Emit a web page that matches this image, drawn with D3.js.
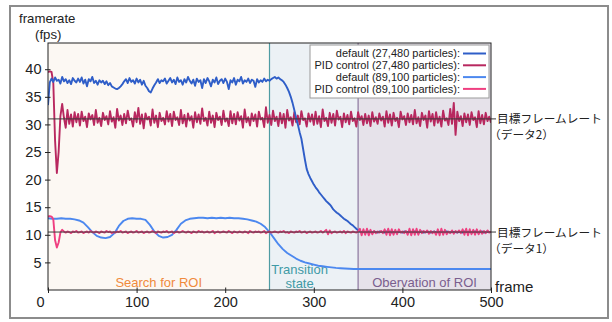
<!DOCTYPE html>
<html>
<head>
<meta charset="utf-8">
<script src="https://cdn.jsdelivr.net/npm/d3@7"></script>
<style>
  body { margin: 0; background: #fff; }
  text { font-family: "Liberation Sans", Arial, sans-serif; fill: #222; }
  .jp { font-family: "Noto Sans CJK JP", sans-serif; }
</style>
</head>
<body>
<div class="canvas"></div>
<script>
// ---- data ----
const xTicks = [0, 100, 200, 300, 400, 500];
const yTicks = [5, 10, 15, 20, 25, 30, 35, 40];

const regionStarts = [0, 250, 350];
const regionEnds = [250, 350, 500];
const regionNames = [['Search for ROI'], ['Transition', 'state'], ['Obervation of ROI']];
const regionLabelFrames = [125, 284, 425];

const targetValues = [31, 10.5];
const targetNames = [['目標フレームレート', '（データ2）'], ['目標フレームレート', '（データ1）']];

const seriesNames = [
  'default (27,480 particles):',
  'PID control (27,480 particles):',
  'default (89,100 particles):',
  'PID control (89,100 particles):'
];

// frames between samples for each series
const seriesSteps = [2, 2, 5, 2];

const default27480 = [
  33.5, 37.6, 38.3, 37.7, 38.5, 37.9, 38.1, 37.4, 38.6, 37.8,
  38.2, 37.5, 38.0, 37.3, 38.4, 37.9, 37.6, 38.3, 37.7, 38.5,
  37.4, 38.1, 36.9, 38.2, 37.8, 38.6, 37.5, 37.9, 37.2, 38.0,
  37.6, 37.9, 37.3, 37.8, 37.1, 37.5, 36.9, 36.7, 36.5, 36.4,
  36.6, 36.9, 37.3, 37.8, 38.2, 37.5, 38.4, 37.7, 38.0, 37.4,
  38.3, 37.6, 38.1, 37.2, 37.9, 37.0, 36.6, 36.0, 35.8, 36.5,
  37.1, 37.6, 38.2, 37.5, 38.0, 37.8, 38.3, 37.4, 37.9, 38.4,
  37.6, 38.1, 37.3, 38.5, 37.7, 38.0, 37.2, 38.2, 37.6, 38.6,
  37.9, 37.4, 38.1, 37.0, 38.3, 37.7, 38.0, 36.6, 38.2, 37.5,
  38.4, 37.8, 36.9, 38.1, 37.6, 38.5, 37.3, 37.9, 38.2, 37.5,
  38.3, 37.7, 36.4, 38.0, 37.6, 38.4, 37.2, 38.1, 37.8, 38.6,
  37.4, 38.0, 37.7, 38.3, 37.5, 38.1, 37.9, 36.8, 38.2, 37.6,
  38.0, 37.7, 38.3, 37.8, 38.1, 37.9, 38.2, 38.4, 38.6, 38.3,
  38.5, 38.2, 38.0, 37.7, 37.2, 36.6, 35.9, 35.0, 33.9, 32.6,
  31.2, 30.0, 28.6, 27.4, 25.5, 23.6, 21.9, 21.0, 20.3, 19.7,
  19.1, 18.6, 18.2, 17.7, 17.3, 16.9, 16.5, 16.1, 15.8, 15.5,
  15.1, 14.6, 14.3, 14.0, 13.8, 13.5, 13.2, 12.9, 12.7, 12.5,
  12.2, 11.9, 11.7, 11.4, 11.1, 10.8, 10.6,
  10.5, 10.6, 10.4, 10.5, 10.6, 10.5, 10.4, 10.6, 10.5, 10.4,
  10.6, 10.5, 10.5, 10.4, 10.6, 10.5, 10.6, 10.4, 10.5, 10.5,
  10.4, 10.6, 10.5, 10.4, 10.6, 10.5, 10.5, 10.6, 10.4, 10.5,
  10.6, 10.5, 10.4, 10.5, 10.6, 10.4, 10.5, 10.6, 10.5, 10.4,
  10.5, 10.6, 10.4, 10.5, 10.5, 10.6, 10.4, 10.5, 10.6, 10.5,
  10.4, 10.6, 10.5, 10.5, 10.4, 10.6, 10.5, 10.4, 10.6, 10.5,
  10.5, 10.6, 10.4, 10.5, 10.6, 10.5, 10.4, 10.5, 10.6, 10.4,
  10.5, 10.6, 10.5, 10.5
];

const pid27480 = [
  39.5, 39.6, 39.5, 37.5, 27.0, 21.2, 25.0, 31.5, 33.7, 31.2,
  29.4, 32.6, 30.1, 31.8, 29.6, 32.2,
  30.4, 31.9, 29.8, 32.3, 30.6, 31.4, 29.5, 32.0, 30.9, 31.7, 29.9, 32.6, 30.3, 31.2, 29.7, 32.1, 30.8, 31.5, 30.0, 32.4,
  30.5, 31.3, 29.4, 32.8, 30.7, 31.6, 29.9, 31.9, 30.2, 32.5, 30.8, 31.1, 29.6, 32.2, 30.4, 33.0, 30.1, 31.8, 29.3, 32.0,
  30.9, 31.4, 29.8, 32.7, 30.3, 31.6, 29.5, 32.1, 30.6, 31.2, 30.0, 32.4, 30.5, 31.9, 29.7, 32.3, 30.8, 31.3, 29.9, 32.6,
  30.2, 31.7, 29.6, 32.0, 30.7, 31.5, 29.4, 32.2, 30.4, 31.8, 30.1, 32.9, 30.6, 31.2, 29.8, 32.3, 30.3, 31.6, 29.5, 32.1,
  30.8, 31.4, 29.9, 32.5, 30.5, 31.1, 29.7, 32.4, 30.2, 31.9, 30.0, 32.2, 30.7, 31.5, 29.4, 32.7, 30.4, 31.3, 29.8, 32.0,
  30.6, 31.8, 29.6, 32.3, 30.9, 31.2, 29.5, 33.1, 30.3, 31.7, 29.9, 32.5, 30.6, 31.4, 29.7, 32.1, 30.2, 31.9, 29.4, 32.6,
  30.7, 31.3, 29.8, 32.2, 30.4, 31.6, 30.0, 32.4, 30.8, 31.1, 29.6, 32.0, 30.5, 31.8, 29.9, 32.3, 30.1, 31.5, 29.5, 32.7,
  30.6, 31.2, 29.7, 32.1, 30.3, 31.9, 29.8, 32.5, 30.9, 31.4, 29.5, 32.0, 30.4, 31.7, 30.0, 32.3, 30.6, 31.1, 29.6, 32.2,
  30.8, 31.5, 29.9, 31.9, 30.2, 31.6, 29.7, 32.2, 30.5, 31.3, 30.1, 32.0, 30.7, 31.4, 29.6, 32.4, 30.3, 31.8, 29.8, 32.1,
  30.6, 31.2, 29.5, 32.3, 30.9, 31.5, 29.9, 32.0, 30.4, 31.7, 30.0, 32.6, 30.2, 31.3, 29.7, 32.1, 30.8, 31.6, 29.4, 32.4,
  30.5, 31.9, 29.8, 32.2, 30.3, 31.4, 29.6, 32.5, 30.7, 31.1, 29.9, 32.8, 30.1, 33.9, 28.1, 32.3, 30.6, 31.5, 29.7, 32.0,
  30.4, 31.8, 29.9, 32.2, 30.8, 31.3, 29.5, 32.4, 30.2, 31.7, 30.0, 32.1, 30.6, 31.4, 30.3
];

const default89100 = [
  13.0, 12.9, 12.9, 13.0, 12.9, 12.9, 12.8, 12.6, 12.2, 11.4,
  10.5, 9.8, 9.5, 9.4, 9.6, 10.3, 11.6, 12.5, 12.9, 13.0,
  12.9, 12.9, 12.7, 11.8, 10.6, 9.8, 9.5, 9.6, 10.0, 10.9,
  12.0, 12.6, 12.9, 13.0, 13.1, 13.1, 13.0, 13.1, 13.0, 13.1,
  13.0, 13.1, 13.0, 13.0, 12.9, 12.8, 12.6, 12.4, 12.0, 11.4,
  10.5, 9.4, 8.3, 7.4, 6.7, 6.2, 5.7, 5.3, 5.0, 4.8,
  4.6, 4.4, 4.3, 4.2, 4.1, 4.0, 3.95, 3.9, 3.85, 3.8,
  3.8, 3.8, 3.8, 3.8, 3.8, 3.8, 3.8, 3.8, 3.8, 3.8,
  3.8, 3.8, 3.8, 3.8, 3.8, 3.8, 3.8, 3.8, 3.8, 3.8,
  3.8, 3.8, 3.8, 3.8, 3.8, 3.8, 3.8, 3.8, 3.8, 3.8,
  3.8
];

const pid89100 = [
  13.3, 13.4, 13.3, 12.8, 9.0, 7.7, 8.6, 10.4, 10.9, 10.6,
  10.4, 10.6, 10.5, 10.3, 10.6, 10.5, 10.7, 10.4, 10.5, 10.6, 10.3, 10.5, 10.6, 10.4, 10.7, 10.5, 10.4, 10.6, 10.5, 10.3,
  10.6, 10.5, 10.4, 10.7, 10.5, 10.6, 10.3, 10.5, 10.4, 10.6, 10.5, 10.7, 10.4, 10.5, 10.6, 10.3, 10.5, 10.6, 10.4, 10.5,
  10.7, 10.4, 10.5, 10.6, 10.3, 10.5, 10.6, 10.4, 10.5, 10.7, 10.5, 10.3, 10.6, 10.5, 10.4, 10.6, 10.5, 10.7, 10.4, 10.5,
  10.6, 10.3, 10.5, 10.6, 10.4, 10.5, 10.7, 10.5, 10.4, 10.6, 10.5, 10.3, 10.6, 10.5, 10.4, 10.7, 10.5, 10.6, 10.4, 10.5,
  10.6, 10.4, 10.5, 10.7, 10.3, 10.5, 10.6, 10.4, 10.5, 10.6, 10.5, 10.4, 10.7, 10.5, 10.3, 10.6, 10.5, 10.4, 10.6, 10.5,
  10.4, 10.6, 10.5, 10.3, 10.7, 10.5, 10.4, 10.6, 10.5, 10.6, 10.4, 10.5, 10.7, 10.3, 10.5, 10.6, 10.4, 10.5, 10.6, 10.5,
  10.4, 10.6, 10.5, 10.7, 10.4, 10.5, 10.3, 10.6, 10.5, 10.4, 10.6, 10.5, 10.7, 10.4, 10.5, 10.6, 10.3, 10.5, 10.6, 10.4,
  10.5, 10.6, 10.4, 10.5, 10.7, 10.4, 10.6, 10.9, 10.1, 10.8, 10.3, 10.5, 10.6, 10.4, 10.5, 10.6, 10.4, 10.7, 10.3, 10.6,
  10.5, 10.4, 10.6, 10.5, 10.4, 10.6,
  11.1, 9.9, 11.0, 10.0, 11.1, 9.9, 10.9, 10.1,
  10.7, 10.3, 10.6, 10.4, 10.7, 10.3,
  11.0, 10.0, 11.1, 9.9, 11.0, 10.0, 10.9, 10.1, 11.0,
  10.4, 10.6, 10.3, 10.7,
  10.0, 11.1, 9.9, 11.0, 10.0, 11.1, 10.0, 10.9,
  10.3, 10.7, 10.4, 10.8, 10.2, 10.7, 10.3, 10.6,
  10.0, 11.0, 9.9, 11.1, 10.0, 10.9, 10.1,
  10.6, 10.3, 10.8, 10.2, 10.7, 10.4, 10.8, 10.3,
  11.0, 10.0, 11.1, 9.9, 11.0, 10.1, 10.9, 10.0, 11.0, 10.1, 10.8, 10.2,
  10.7, 10.3, 10.8, 10.4, 10.6
];

const seriesValues = [default27480, pid27480, default89100, pid89100];

// ---- styles ----
const seriesColors = ['#2f5ec8', '#b8285f', '#4c88ef', '#ef3f80'];
const drawOrder = [1, 0, 2, 3];
const regionFills = ['#fcf8f3', '#ecf1f5', '#e6e2ea'];
const regionLines = [null, '#4f9ca3', '#8a769e'];
const regionTextColors = ['#f08a3c', '#3f9aa6', '#7a5e8e'];

const dims = { width: 612, height: 322 };
const plot = { left: 48, right: 491, top: 43, bottom: 290 };

const svg = d3.select('.canvas')
  .append('svg')
  .attr('width', dims.width)
  .attr('height', dims.height);

// outer frame
svg.append('rect')
  .attr('x', 10).attr('y', 6)
  .attr('width', 598).attr('height', 312)
  .attr('fill', '#fff')
  .attr('stroke', '#8c8c8c')
  .attr('stroke-width', 2);

const x = d3.scaleLinear().domain([0, 500]).range([plot.left, plot.right]);
const y = d3.scaleLinear().domain([0, 44.75]).range([plot.bottom, plot.top]);

svg.append('clipPath').attr('id', 'clip')
  .append('rect')
  .attr('x', plot.left).attr('y', plot.top)
  .attr('width', plot.right - plot.left).attr('height', plot.bottom - plot.top);

// background regions
const regions = regionStarts.map((s, i) => ({ s, e: regionEnds[i], i }));
svg.append('g').selectAll('rect')
  .data(regions)
  .enter().append('rect')
  .attr('x', d => x(d.s))
  .attr('y', plot.top)
  .attr('width', d => x(d.e) - x(d.s))
  .attr('height', plot.bottom - plot.top)
  .attr('fill', d => regionFills[d.i]);

svg.append('g').selectAll('line')
  .data(regions.filter(d => regionLines[d.i]))
  .enter().append('line')
  .attr('x1', d => x(d.s)).attr('x2', d => x(d.s))
  .attr('y1', plot.top).attr('y2', plot.bottom)
  .attr('stroke', d => regionLines[d.i])
  .attr('stroke-width', 1.2);

// region labels
regions.forEach(d => {
  const lines = regionNames[d.i];
  const t = svg.append('text')
    .attr('x', x(regionLabelFrames[d.i]))
    .attr('text-anchor', 'middle')
    .attr('font-size', 13)
    .style('fill', regionTextColors[d.i]);
  lines.forEach((l, k) => {
    t.append('tspan')
      .attr('x', x(regionLabelFrames[d.i]))
      .attr('y', lines.length === 1 ? 286.5 : 274 + k * 13.5)
      .text(l);
  });
});

// series
const graph = svg.append('g').attr('clip-path', 'url(#clip)');
const line = d3.line()
  .x(d => x(d.f))
  .y(d => y(d.v));

drawOrder.forEach(si => {
  const pts = seriesValues[si].map((v, i) => ({ f: i * seriesSteps[si], v }));
  graph.append('path')
    .datum(pts)
    .attr('d', line)
    .attr('fill', 'none')
    .attr('stroke', seriesColors[si])
    .attr('stroke-width', 1.9)
    .attr('stroke-linejoin', 'round');
});

// target lines + labels
targetValues.forEach((tv, i) => {
  svg.append('line')
    .attr('x1', x(0)).attr('x2', x(500) + 5)
    .attr('y1', y(tv)).attr('y2', y(tv))
    .attr('stroke', '#3a3a3a')
    .attr('stroke-width', 1);
  svg.append('text')
    .attr('class', 'jp')
    .attr('x', x(500) + 6)
    .attr('y', y(tv) + 4.5)
    .attr('font-size', 11.7)
    .text(targetNames[i][0]);
  svg.append('text')
    .attr('class', 'jp')
    .attr('x', x(500) - 2)
    .attr('y', y(tv) + 20.5)
    .attr('font-size', 11.7)
    .text(targetNames[i][1]);
});

// plot border
svg.append('rect')
  .attr('x', plot.left).attr('y', plot.top)
  .attr('width', plot.right - plot.left).attr('height', plot.bottom - plot.top)
  .attr('fill', 'none')
  .attr('stroke', '#222')
  .attr('stroke-width', 1);

// axes
const xAxis = d3.axisBottom(x).tickValues(xTicks).tickSize(3).tickPadding(4);
const yAxis = d3.axisLeft(y).tickValues(yTicks).tickSize(3).tickPadding(3.5);

const xg = svg.append('g').attr('transform', `translate(0, ${plot.bottom})`).call(xAxis);
const yg = svg.append('g').attr('transform', `translate(${plot.left}, 0)`).call(yAxis);
[xg, yg].forEach(g => {
  g.select('.domain').remove();
  g.selectAll('.tick line').attr('stroke', '#222');
  g.selectAll('.tick text').attr('font-size', 14.5).attr('font-family', '"Liberation Sans", Arial, sans-serif').style('fill', '#222');
});
xg.selectAll('.tick line').attr('y1', -2.5);
yg.selectAll('.tick line').attr('x1', 2.5);
xg.selectAll('.tick text').filter(d => d === 0).attr('dx', -8);

// axis titles
svg.append('text').attr('x', 19).attr('y', 23).attr('font-size', 13.2).text('framerate');
svg.append('text').attr('x', 35).attr('y', 39).attr('font-size', 13.2).text('(fps)');
svg.append('text').attr('x', 495).attr('y', 292).attr('font-size', 15).text('frame');

// legend
const legend = svg.append('g');
legend.append('rect')
  .attr('x', 310).attr('y', 45)
  .attr('width', 179).attr('height', 53)
  .attr('fill', '#fff')
  .attr('stroke', '#9a9a9a')
  .attr('stroke-width', 1);
seriesNames.forEach((name, i) => {
  const cy = 53.5 + i * 11.8;
  legend.append('text')
    .attr('x', 460).attr('y', cy + 3.8)
    .attr('text-anchor', 'end')
    .attr('font-size', 11)
    .text(name);
  legend.append('line')
    .attr('x1', 463).attr('x2', 486)
    .attr('y1', cy).attr('y2', cy)
    .attr('stroke', seriesColors[i])
    .attr('stroke-width', 2);
});
</script>
</body>
</html>
